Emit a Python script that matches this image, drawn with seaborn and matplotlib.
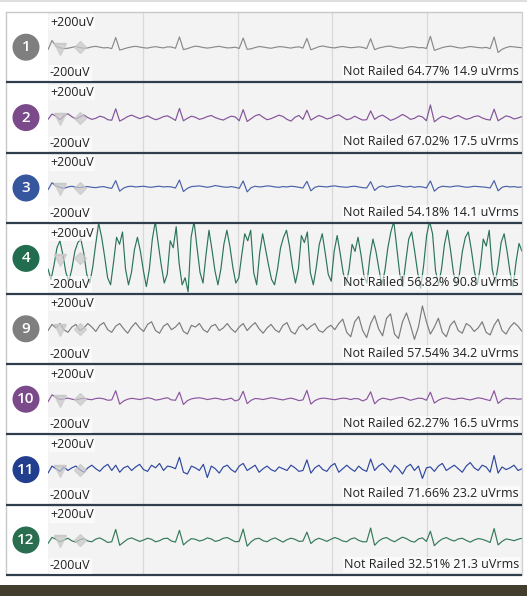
import numpy as np
import matplotlib
matplotlib.use("Agg")
import matplotlib.pyplot as plt
import seaborn as sns
from matplotlib.patches import Circle, Rectangle

sns.set_theme(style="white")
plt.rcParams['font.family'] = ['Open Sans', 'DejaVu Sans']

# Channel info shown in the widget
channels = ['1', '2', '3', '4', '9', '10', '11', '12']
railed_pct = ['64.77%', '67.02%', '54.18%', '56.82%', '57.54%', '62.27%', '71.66%', '32.51%']
uv_rms = ['14.9', '17.5', '14.1', '90.8', '34.2', '16.5', '23.2', '21.3']
scale_top = '+200uV'
scale_bottom = '-200uV'
window_sec = 5

# Traces in uV (equal time steps over the 5 s window)
ch1_uv = [
    -14, 38, 6, -4, -8, -6, -1, 4, -2, -6, -4, 2, 5, 0, -4, -2,
    -8, 55, -16, -10, -3, 2, 5, 1, -3, -5, 0, 3, -1, -4, 2, 1,
    -6, 58, -14, -8, 0, 6, 3, -2, -5, -2, 2, 5, 0, -4, -3, 0,
    -7, 52, -12, -9, -2, 4, 1, -3, -6, -1, 3, 2, -2, -5, 0, 2,
    -5, 50, -15, -6, 3, 7, 2, -2, -4, 1, 4, 0, -3, -1, 2, -1,
    -8, 48, -14, -5, 0, 5, 6, 0, -4, -6, -1, 3, 2, -3, -2, -7,
    62, -18, -10, -2, 3, 6, 2, -3, -5, 0, 4, 1, -2, -4, -1, -8,
    58, -30, -12, -2, 4, 2, -1, -3,
]
ch2_uv = [
    -10, 20, 8, -12, 10, 22, 5, -8, 4, 15, 0, -10, -4, 8, 2, -12,
    -15, 50, -20, -8, 6, 14, 4, -6, 2, 10, -2, -12, -5, 6, 10, -2,
    -16, 52, -18, -4, 8, 2, -10, -4, 6, 12, 0, -8, -14, -2, 8, 4,
    -18, 45, -22, -6, 10, 18, 2, -12, -6, 4, 14, 6, -10, -20, 2, 12,
    -10, 42, -14, 0, 12, 4, -8, -2, 10, 16, 2, -12, -6, 8, -4, -14,
    -12, 38, -10, 6, 14, 0, -16, -8, 4, 18, 6, -10, -4, 10, 4, -18,
    72, -24, -6, 8, 2, -8, 4, 12, 0, -10, -4, 6, 10, -2, -10, -14,
    48, -18, -4, 10, 4, -8, -2, 6,
]
ch3_uv = [
    -10, 30, 12, 4, -2, 6, 10, 4, 2, 6, 8, 4, 2, 6, 8, 2,
    -2, 42, -18, 0, 8, 10, 6, 8, 10, 6, 4, 8, 10, 6, 8, 6,
    0, 45, -20, -2, 8, 10, 12, 8, 4, 8, 14, 10, 6, 4, 8, 4,
    -2, 40, -22, 2, 10, 6, 8, 12, 10, 6, 4, 8, 6, 10, 8, 4,
    0, 38, -16, 4, 10, 8, 6, 10, 12, 8, 6, 4, 8, 10, 6, 2,
    0, 36, -14, 6, 12, 4, 8, 10, 14, 8, 6, 10, 4, 8, 6, 0,
    40, -18, 2, 10, 8, 6, 10, 12, 8, 4, 6, 10, 8, 6, 4, 0,
    42, -16, 4, 10, 6, 8, 4, 6,
]
ch4_uv = [
    -60, -120, -40, 60, 100, 20, -80, -130, -60, 40,
    90, 110, 30, -90, -140, -50, 80, 200, 120, 10,
    -110, -150, -20, 120, 80, 150, -60, -150, -80, 50,
    120, 40, -70, -160, -60, 110, 210, 80, -40, -140,
    -90, 100, 60, 180, -30, -150, -110, -190, 120, 210,
    60, -80, -140, 20, 160, 50, -70, -150, -60, 80,
    160, 70, -50, -140, -110, 20, 140, 100, 160, -80,
    -150, 30, 140, 50, -40, -120, -150, -60, 60, 120,
    160, 70, -50, -140, -60, 130, 90, 150, -80, -150,
    -50, 80, 140, 30, -90, -130, 40, 130, 30, -80,
    -150, -60, 80, 40, 120, 20, -100, -140, 10, 110,
    40, -60, -150, -70, 60, 150, 210, 60, -90, -160,
    -20, 110, 150, 40, -80, -170, -40, 130, 210, 140,
    -70, -150, -60, 80, 160, 50, -80, -150, -90, 40,
    120, 150, 50, -70, -150, -50, 110, 70, 160, -60,
    -140, -40, 90, 140, 40, -80, -160, -20, 85, 40,
]
ch9_uv = [
    -10, 25, 5, 30, -5, -20, 10, 25, -10, 5, 30, 10, -15, 20, 35, -5,
    -20, 15, 30, 0, -25, 10, 35, 5, -15, 25, 40, -10, -25, 15, 30, -5,
    10, 35, -15, -30, 20, 10, 30, -5, -20, 15, 25, -10, 5, 30, 0, -20,
    10, 30, -10, 15, 35, 0, -25, 5, 25, -5, -20, 20, 35, -15, -30, 10,
    25, -5, 15, 30, -10, -20, 5, 20, -5, 30, 55, -20, -45, 40, 70, -10,
    -50, 30, 75, 0, -40, 60, 85, -30, -55, 40, 90, 20, -60, 10, 130, 40,
    -30, 10, 60, -20, -45, 20, 45, -10, -25, 30, 15, -15, 5, 40, -20, -35,
    20, 55, -10, -30, 10, 35, 15, -15,
]
ch10_uv = [
    -15, 25, 10, -2, 2, 6, 0, -4, 2, 5, 0, -3, 4, 6, 2, -6,
    -4, 48, -28, -10, 0, 5, 2, -2, 3, 8, 4, -5, -2, 4, 8, -4,
    -6, 40, -30, -8, 2, 6, 8, 4, -2, 2, 6, 2, -4, 0, 6, -10,
    -2, 45, -25, -6, 4, 2, -2, 3, 8, 5, 0, -4, 2, 6, 0, -8,
    -4, 50, -28, -8, 2, 6, 4, 0, -3, 2, 6, 4, -2, 4, 2, -10,
    0, 42, -26, -4, 6, 2, -4, 2, 8, 10, 2, -6, 0, 6, 4, -6,
    40, -22, -6, 4, 8, 2, -2, 4, 6, 0, -4, 2, 8, 4, -2, -8,
    48, -24, -4, 6, 2, 4, 0, 2,
]
ch11_uv = [
    -20, 20, 5, -10, 15, -5, 10, 20, 0, -15, 10, 25, 5, -10, 15, 30,
    -5, 25, -15, 10, 20, -5, 15, 30, 0, -10, 25, 10, 35, -5, 20, 15,
    5, 70, -15, -25, 20, 10, -5, 30, -45, 20, 5, -20, 15, 25, 0, -15,
    20, 35, -5, 10, 25, -15, 5, 20, 0, -10, 15, 5, -5, 25, 10, -10,
    -5, 55, -20, 10, 25, 0, -10, 20, 35, -15, 5, 25, 5, -10, 20, 0,
    -10, 60, -5, 20, 35, 10, -15, 25, 5, -25, 15, 30, -5, 20, -50, 10,
    15, -10, 20, 35, -5, 10, 25, 5, -15, 20, 40, 10, -5, 25, 15, -15,
    80, -20, 15, 0, 10, 25, -5, 5,
]
ch12_uv = [
    -20, 15, 5, -10, 0, 10, -5, -12, 2, 8, -6, -10, 5, 12, 0, -14,
    -10, 60, -30, -12, 5, 12, 2, -8, 0, 10, 4, -10, -4, 8, 10, -6,
    -12, 55, -28, -8, 8, 4, -6, 0, 12, 6, -8, -2, 10, 14, 2, -10,
    -8, 62, -35, -10, 6, 10, -4, -10, 4, 12, 0, -12, 2, 10, 4, -8,
    -6, 45, -20, 0, 10, 2, -8, 4, 14, 6, -6, -10, 6, 12, -2, -10,
    -10, 68, -30, -6, 8, 14, 0, -10, 4, 16, 8, -6, -12, 6, 12, -8,
    50, -32, -10, 6, 14, 2, -6, 6, 10, -2, -12, 0, 8, 4, -4, -14,
    65, -28, -8, 6, 2, -4, 4, 10,
]
signals = [ch1_uv, ch2_uv, ch3_uv, ch4_uv, ch9_uv, ch10_uv, ch11_uv, ch12_uv]

badge_colors = ['#7f7f7f', '#7a4a8b', '#36569e', '#226c50', '#7f7f7f', '#7a4a8b', '#213f8e', '#2a6d4f']
trace_colors = ['#8a8a8a', '#84539a', '#4a61a8', '#2b7559', '#7c7c7c', '#8c55a0', '#2f48a0', '#347a5a']

W, H = 527, 596
fig = plt.figure(figsize=(W / 100, H / 100), dpi=100)
fig.patch.set_facecolor('white')

# pixel-space background layer
bg = fig.add_axes([0, 0, 1, 1], zorder=0)
bg.set_xlim(0, W)
bg.set_ylim(H, 0)
bg.axis('off')

top, row_h = 12, 70.4
left, right = 48, 522
bottom = top + row_h * len(channels)

bg.add_patch(Rectangle((0, 0), W, 2, color='#dedede', lw=0))
bg.add_patch(Rectangle((0, 585), W, 11, color='#433d2e', lw=0))
bg.add_patch(Rectangle((6, top), left - 6, bottom - top, facecolor='white', edgecolor='none'))

for i, ch in enumerate(channels):
    y0 = top + i * row_h
    ax = fig.add_axes([left / W, 1 - (y0 + row_h) / H, (right - left) / W, row_h / H], zorder=1)
    ax.set_facecolor('#f3f3f3')
    vals = signals[i]
    t = np.linspace(0, window_sec, len(vals))
    for g in range(1, window_sec):
        ax.axvline(g, color='#d9d9d9', lw=0.9, zorder=0)
    sns.lineplot(x=t, y=vals, ax=ax, color=trace_colors[i], lw=0.85, zorder=2)
    # the little marker icons drawn over the start of each trace
    ax.plot([0.13], [-8], marker='v', ms=8, color='#c8c8c8', alpha=0.7, zorder=3)
    ax.plot([0.13], [20], marker='_', ms=9, mew=1.6, color='#c8c8c8', alpha=0.7, zorder=3)
    ax.plot([0.34], [0], marker='D', ms=6, color='#c8c8c8', alpha=0.7, zorder=3)
    ax.set_xlim(0, window_sec)
    ax.set_ylim(-200, 200)
    ax.set_xticks([])
    ax.set_yticks([])
    for s in ax.spines.values():
        s.set_visible(False)

# foreground layer for separators, badges and labels
fg = fig.add_axes([0, 0, 1, 1], zorder=5)
fg.set_xlim(0, W)
fg.set_ylim(H, 0)
fg.axis('off')
fg.patch.set_alpha(0)

fg.plot([6, right], [top, top], color='#c8c8c8', lw=1)
fg.plot([6, 6], [top, bottom], color='#c8c8c8', lw=1)
fg.plot([right, right], [top, bottom], color='#d0d0d0', lw=1)
for i in range(1, len(channels) + 1):
    yb = top + i * row_h
    fg.plot([6, right], [yb, yb], color='#2f3d4c', lw=1.6, solid_capstyle='butt')

box = dict(boxstyle='square,pad=0.1', facecolor='white', edgecolor='none', alpha=0.6)
for i, ch in enumerate(channels):
    y0 = top + i * row_h
    cy = y0 + row_h / 2
    fg.add_patch(Circle((26, cy), 13.5, color=badge_colors[i], lw=0))
    fg.text(26, cy, ch, color='white', fontsize=11, fontweight='semibold',
            ha='center', va='center')
    fg.text(50, y0 + 10, scale_top, fontsize=9.0, color='#222222',
            ha='left', va='center', bbox=box)
    fg.text(50, y0 + 61, scale_bottom, fontsize=9.0, color='#222222',
            ha='left', va='center', bbox=box)
    fg.text(519, y0 + 59.5, f'Not Railed {railed_pct[i]} {uv_rms[i]} uVrms',
            fontsize=9.0, color='#222222', ha='right', va='center', bbox=box)

fig.savefig('out.png', dpi=100)
